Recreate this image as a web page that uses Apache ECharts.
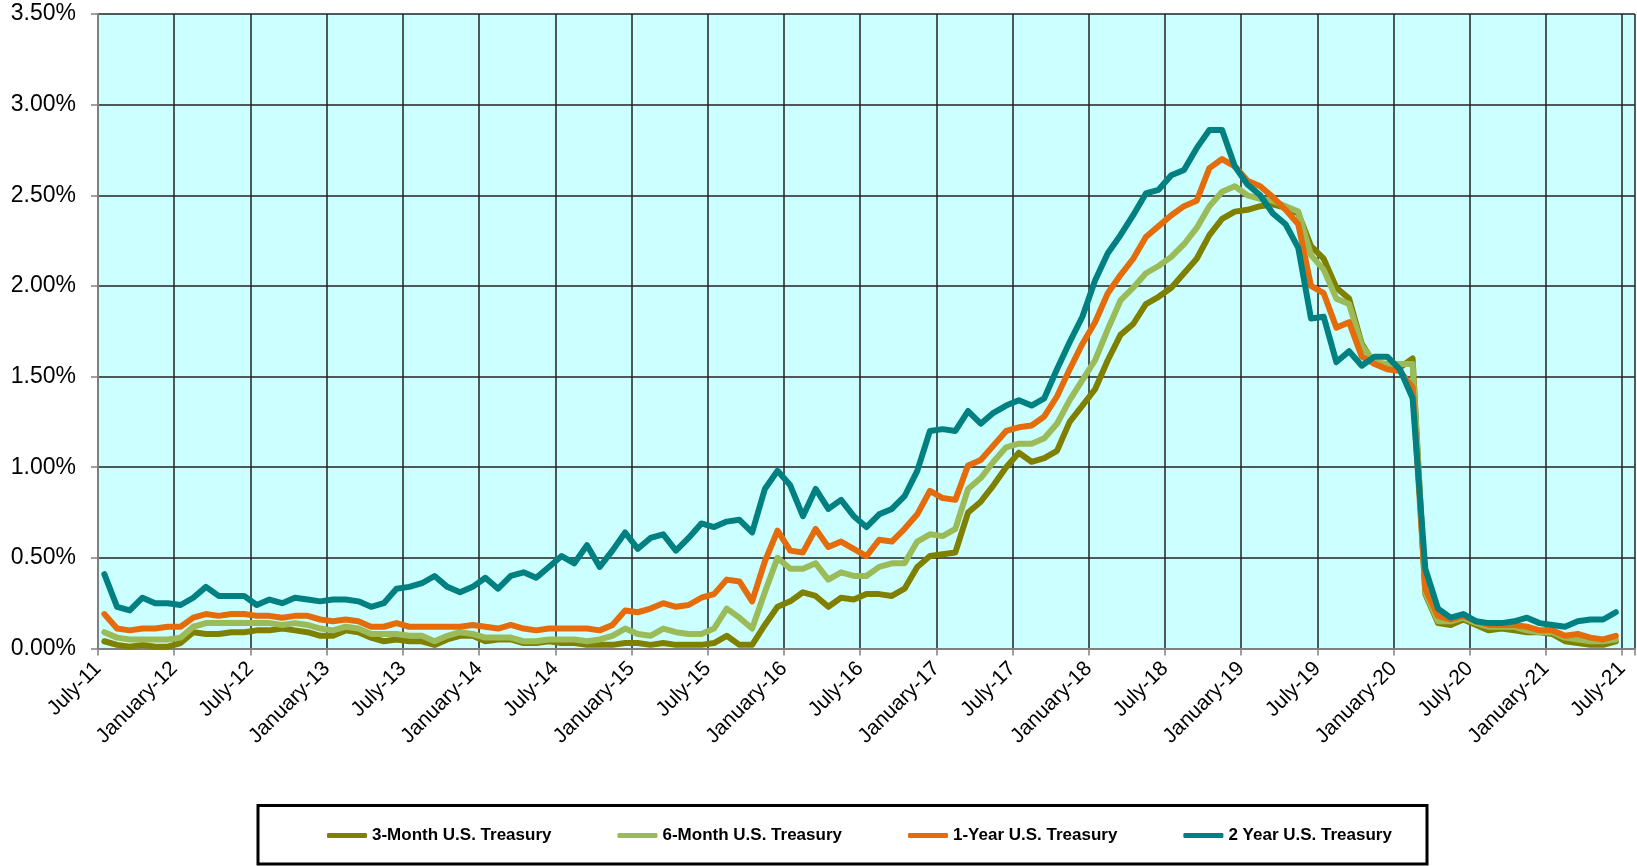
<!DOCTYPE html>
<html>
<head>
<meta charset="utf-8">
<script src="https://cdn.jsdelivr.net/npm/echarts@6/dist/echarts.min.js"></script>
<style>
	html, body {margin:0; padding:0; background:#fff;}
	#chart {width:1637px; height:866px;}
</style>
</head>
<body>
<div id="chart"></div>
<script>
	// monthly yields in %, July 2011 .. June 2021 (one row per year)
	var threeMonth = [
		0.04, 0.02, 0.01, 0.02, 0.01, 0.01,
		0.03, 0.09, 0.08, 0.08, 0.09, 0.09, 0.10, 0.10, 0.11, 0.10, 0.09, 0.07,
		0.07, 0.10, 0.09, 0.06, 0.04, 0.05, 0.04, 0.04, 0.02, 0.05, 0.07, 0.07,
		0.04, 0.05, 0.05, 0.03, 0.03, 0.04, 0.03, 0.03, 0.02, 0.02, 0.02, 0.03,
		0.03, 0.02, 0.03, 0.02, 0.02, 0.02, 0.03, 0.07, 0.02, 0.02, 0.13, 0.23,
		0.26, 0.31, 0.29, 0.23, 0.28, 0.27, 0.30, 0.30, 0.29, 0.33, 0.45, 0.51,
		0.52, 0.53, 0.75, 0.81, 0.90, 1.00, 1.08, 1.03, 1.05, 1.09, 1.25, 1.34,
		1.43, 1.59, 1.73, 1.79, 1.90, 1.94, 1.99, 2.07, 2.15, 2.28, 2.37, 2.41,
		2.42, 2.44, 2.45, 2.43, 2.40, 2.22, 2.15, 1.99, 1.93, 1.68, 1.57, 1.57,
		1.55, 1.60, 0.30, 0.14, 0.13, 0.16, 0.13, 0.10, 0.11, 0.10, 0.09, 0.09,
		0.08, 0.04, 0.03, 0.02, 0.02, 0.04
	];
	var sixMonth = [
		0.09, 0.06, 0.05, 0.05, 0.05, 0.05,
		0.06, 0.12, 0.14, 0.14, 0.14, 0.14, 0.14, 0.14, 0.13, 0.14, 0.13, 0.11,
		0.10, 0.12, 0.11, 0.08, 0.08, 0.08, 0.07, 0.07, 0.04, 0.07, 0.09, 0.08,
		0.06, 0.06, 0.06, 0.04, 0.04, 0.05, 0.05, 0.05, 0.04, 0.05, 0.07, 0.11,
		0.08, 0.07, 0.11, 0.09, 0.08, 0.08, 0.11, 0.22, 0.17, 0.11, 0.31, 0.50,
		0.44, 0.44, 0.47, 0.38, 0.42, 0.40, 0.40, 0.45, 0.47, 0.47, 0.59, 0.63,
		0.62, 0.66, 0.88, 0.94, 1.03, 1.11, 1.13, 1.13, 1.16, 1.24, 1.37, 1.48,
		1.59, 1.76, 1.92, 1.99, 2.07, 2.11, 2.16, 2.23, 2.32, 2.44, 2.52, 2.55,
		2.50, 2.48, 2.47, 2.44, 2.41, 2.17, 2.09, 1.93, 1.90, 1.67, 1.58, 1.57,
		1.57, 1.57, 0.31, 0.15, 0.15, 0.17, 0.14, 0.12, 0.12, 0.12, 0.10, 0.09,
		0.09, 0.06, 0.05, 0.04, 0.04, 0.05
	];
	var oneYear = [
		0.19, 0.11, 0.10, 0.11, 0.11, 0.12,
		0.12, 0.17, 0.19, 0.18, 0.19, 0.19, 0.18, 0.18, 0.17, 0.18, 0.18, 0.16,
		0.15, 0.16, 0.15, 0.12, 0.12, 0.14, 0.12, 0.12, 0.12, 0.12, 0.12, 0.13,
		0.12, 0.11, 0.13, 0.11, 0.10, 0.11, 0.11, 0.11, 0.11, 0.10, 0.13, 0.21,
		0.20, 0.22, 0.25, 0.23, 0.24, 0.28, 0.30, 0.38, 0.37, 0.26, 0.48, 0.65,
		0.54, 0.53, 0.66, 0.56, 0.59, 0.55, 0.51, 0.60, 0.59, 0.66, 0.74, 0.87,
		0.83, 0.82, 1.01, 1.04, 1.12, 1.20, 1.22, 1.23, 1.28, 1.39, 1.54, 1.68,
		1.80, 1.96, 2.06, 2.15, 2.27, 2.33, 2.39, 2.44, 2.47, 2.65, 2.70, 2.66,
		2.58, 2.55, 2.49, 2.42, 2.34, 2.00, 1.96, 1.77, 1.80, 1.61, 1.57, 1.54,
		1.53, 1.44, 0.33, 0.18, 0.16, 0.18, 0.15, 0.13, 0.13, 0.13, 0.12, 0.10,
		0.10, 0.07, 0.08, 0.06, 0.05, 0.07
	];
	var twoYear = [
		0.41, 0.23, 0.21, 0.28, 0.25, 0.25,
		0.24, 0.28, 0.34, 0.29, 0.29, 0.29, 0.24, 0.27, 0.25, 0.28, 0.27, 0.26,
		0.27, 0.27, 0.26, 0.23, 0.25, 0.33, 0.34, 0.36, 0.40, 0.34, 0.31, 0.34,
		0.39, 0.33, 0.40, 0.42, 0.39, 0.45, 0.51, 0.47, 0.57, 0.45, 0.54, 0.64,
		0.55, 0.61, 0.63, 0.54, 0.61, 0.69, 0.67, 0.70, 0.71, 0.64, 0.88, 0.98,
		0.90, 0.73, 0.88, 0.77, 0.82, 0.73, 0.67, 0.74, 0.77, 0.84, 0.98, 1.20,
		1.21, 1.20, 1.31, 1.24, 1.30, 1.34, 1.37, 1.34, 1.38, 1.54, 1.69, 1.83,
		2.03, 2.18, 2.28, 2.39, 2.51, 2.53, 2.61, 2.64, 2.76, 2.86, 2.86, 2.66,
		2.56, 2.50, 2.40, 2.34, 2.21, 1.82, 1.83, 1.58, 1.64, 1.56, 1.61, 1.61,
		1.54, 1.38, 0.44, 0.22, 0.17, 0.19, 0.15, 0.14, 0.14, 0.15, 0.17, 0.14,
		0.13, 0.12, 0.15, 0.16, 0.16, 0.20
	];

	// one label every 6 months, first one is July 2011
	var tickLabels = ['July-11', 'January-12', 'July-12', 'January-13', 'July-13', 'January-14', 'July-14',
		'January-15', 'July-15', 'January-16', 'July-16', 'January-17', 'July-17', 'January-18', 'July-18',
		'January-19', 'July-19', 'January-20', 'July-20', 'January-21', 'July-21'];
	var seriesNames = ['3-Month U.S. Treasury', '6-Month U.S. Treasury', '1-Year U.S. Treasury', '2 Year U.S. Treasury'];
	var seriesColors = ['#808000', '#9BBB59', '#E46C0A', '#008080'];
	var seriesData = [threeMonth, sixMonth, oneYear, twoYear];

	var FONT = '"Liberation Sans", Arial, sans-serif';

	// each month sits in the middle of its slot (month i -> i + 0.5)
	function toPoints(arr){
		return arr.map(function(v, i){ return [i + 0.5, v]; });
	}

	var myChart = echarts.init(document.getElementById('chart'));

	var option = {
		backgroundColor: '#fff',
		animation: false,
		grid: {
			left: 98, top: 14, width: 1538, height: 634.5,
			show: true, backgroundColor: '#CCFFFF', borderWidth: 0
		},
		legend: {
			left: 327, top: 827, padding: 0,
			itemWidth: 40, itemHeight: 5, itemGap: 66,
			icon: 'roundRect',
			data: seriesNames,
			textStyle: {fontFamily: FONT, fontSize: 17, fontWeight: 'bold', color: '#000'}
		},
		graphic: [{
			type: 'rect',
			shape: {x: 258, y: 805.5, width: 1169, height: 58.5},
			style: {fill: 'none', stroke: '#000', lineWidth: 3}
		}],
		xAxis: {
			type: 'value',
			min: 0, max: 121, interval: 6,
			axisLine: {show: true, lineStyle: {color: '#808080', width: 2}},
			axisTick: {show: true, length: 7, lineStyle: {color: '#808080', width: 1.5}},
			splitLine: {show: true, lineStyle: {color: '#222', width: 1.5}},
			axisLabel: {
				rotate: 45, margin: 17,
				fontFamily: FONT, fontSize: 21, color: '#000',
				formatter: function(v){
					return v % 6 === 0 ? (tickLabels[v / 6] || '') : '';
				}
			}
		},
		yAxis: {
			type: 'value',
			min: 0, max: 3.5, interval: 0.5,
			axisLine: {show: true, lineStyle: {color: '#808080', width: 2}},
			axisTick: {show: true, length: 7, lineStyle: {color: '#808080', width: 1.5}},
			splitLine: {show: true, lineStyle: {color: '#222', width: 1.5}},
			axisLabel: {
				margin: 22, fontFamily: FONT, fontSize: 23, color: '#000',
				formatter: function(v){ return v.toFixed(2) + '%'; }
			}
		},
		series: seriesData.map(function(arr, k){
			return {
				name: seriesNames[k],
				type: 'line',
				data: toPoints(arr),
				symbol: 'none',
				color: seriesColors[k],
				lineStyle: {width: 6, color: seriesColors[k], cap: 'round', join: 'round'}
			};
		})
	};

	myChart.setOption(option);
</script>
</body>
</html>
